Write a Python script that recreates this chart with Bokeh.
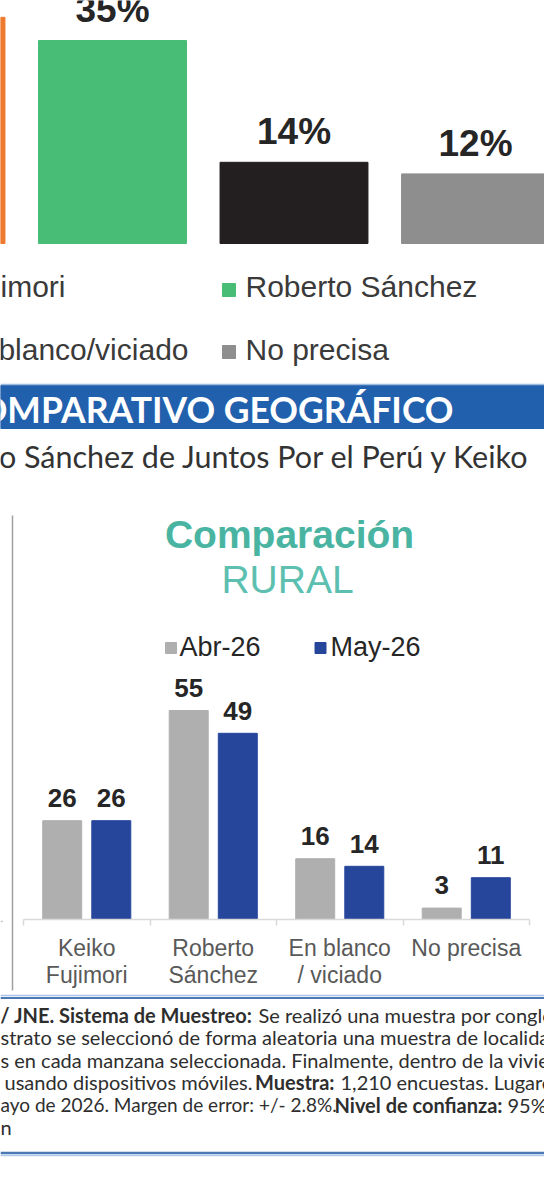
from bokeh.plotting import figure
from bokeh.models import Range1d, LinearAxis, FixedTicker
from bokeh.core.properties import value
from bokeh.embed import file_html
from bokeh.resources import INLINE

# ---------------- data ----------------
top_categories = ["Keiko Fujimori", "Roberto Sánchez", "En blanco/viciado", "No precisa"]
top_values = [39, 35, 14, 12]
top_colors = ["#EE7A30", "#47BD76", "#231F20", "#8E8E8E"]

rural_categories = ["Keiko\nFujimori", "Roberto\nSánchez", "En blanco\n/ viciado", "No precisa"]
rural_series = ["Abr-26", "May-26"]
rural_abr = [26, 55, 16, 3]
rural_may = [26, 49, 14, 11]
rural_colors = ["#AFAFAF", "#26469C"]

banner_title = "COMPARATIVO GEOGRÁFICO"
subtitle = "Roberto Sánchez de Juntos Por el Perú y Keiko"
rural_title = "Comparación"
rural_subtitle = "RURAL"

foot_texts = [
    "E / JNE. Sistema de Muestreo:", "Se realizó una muestra por conglomerados",
    "strato se seleccionó de forma aleatoria una muestra de localidades",
    "s en cada manzana seleccionada. Finalmente, dentro de la vivienda",
    "usando dispositivos móviles.", "Muestra:", "1,210 encuestas. Lugares",
    "ayo de 2026. Margen de error: +/- 2.8%.", "Nivel de confianza:", "95%.",
    "n",
]

# ---------------- layout (reference pixel space) ----------------
W, H = 544, 1184
L, R, T, B = 0, 544, 0, 1184
RX0, RCW, RBASE, RVS = 23.0, 126.5, 919.0, 3.8      # rural chart scale
TX0, TP, TBASE, TVS = -69.5, 181.5, 243.0, 5.8      # top chart scale
K = 0.37                                            # baseline correction (em)

ARIAL = value("Liberation Sans")
MYR = value("Lato")


def bl(y, fs):
    return y - K * fs


p = figure(width=W, height=H, output_backend="svg", toolbar_location=None,
           x_range=Range1d((L - RX0) / RCW, (R - RX0) / RCW),
           y_range=Range1d((RBASE - B) / RVS, (RBASE - T) / RVS),
           x_axis_type=None, y_axis_type=None, min_border=0,
           outline_line_color=None, background_fill_color="white",
           border_fill_color="white")
p.grid.visible = False
p.extra_x_ranges = {"px": Range1d(L, R), "tx": Range1d((L - TX0) / TP, (R - TX0) / TP)}
p.extra_y_ranges = {"py": Range1d(B, T), "ty": Range1d((TBASE - B) / TVS, (TBASE - T) / TVS)}

# ---------------- top chart ----------------
tx = list(range(len(top_categories)))
p.vbar(x=tx, top=top_values, bottom=0, width=0.815, color=top_colors,
       x_range_name="tx", y_range_name="ty")
p.text(x=tx, y=top_values, text=[f"{v}%" for v in top_values],
       x_range_name="tx", y_range_name="ty", y_offset=-17 - K * 37,
       text_align="center", text_baseline="alphabetic",
       text_font=ARIAL, text_font_style="bold", text_font_size="37px",
       text_color="#262626")

# top legend (two columns; squares of the left column lie off the page)
leg_text_x = [65, 245, 188, 245]
leg_text_y = [297, 297, 360, 360]
leg_sq_y = [289.5, 289.5, 351.5, 351.5]
leg_align = ["right", "left", "right", "left"]
for i, name in enumerate(top_categories):
    p.text(x=[leg_text_x[i]], y=[bl(leg_text_y[i], 30)], text=[name],
           x_range_name="px", y_range_name="py", text_align=leg_align[i],
           text_baseline="alphabetic", text_font=ARIAL, text_font_size="30px",
           text_color="#3A3A3A")
    if leg_align[i] == "left":
        p.scatter(x=[228.5], y=[leg_sq_y[i]], marker="square", size=13,
                  color=top_colors[i], x_range_name="px", y_range_name="py")

# ---------------- banner ----------------
p.quad(left=[L], right=[R], top=[385], bottom=[428], color="#2160AD",
       x_range_name="px", y_range_name="py")
p.segment(x0=[L], x1=[R], y0=[384], y1=[384], line_color="#9FBCE0", line_width=1.5,
          x_range_name="px", y_range_name="py")
p.text(x=[453], y=[bl(422, 35.5)], text=[banner_title], x_range_name="px", y_range_name="py",
       text_align="right", text_baseline="alphabetic", text_font=MYR,
       text_font_style="bold", text_font_size="35.5px", text_color="white")
p.text(x=[530], y=[bl(467, 30.5)], text=[subtitle], x_range_name="px", y_range_name="py",
       text_align="right", text_baseline="alphabetic", text_font=MYR,
       text_font_size="30.5px", text_color="#333333")

# ---------------- rural panel ----------------
p.segment(x0=[12], x1=[12], y0=[515], y1=[990], line_color="#A0A0A0", line_width=1.5,
          x_range_name="px", y_range_name="py")
p.segment(x0=[0], x1=[2.5], y0=[921], y1=[921], line_color="#C8C8C8", line_width=1.5,
          x_range_name="px", y_range_name="py")
p.text(x=[289], y=[bl(548, 39)], text=[rural_title], x_range_name="px", y_range_name="py",
       text_align="center", text_baseline="alphabetic", text_font=ARIAL,
       text_font_style="bold", text_font_size="39px", text_color="#4AB4A2")
p.text(x=[287], y=[bl(593, 39)], text=[rural_subtitle], x_range_name="px", y_range_name="py",
       text_align="center", text_baseline="alphabetic", text_font=ARIAL,
       text_font_size="39px", text_color="#5CBFAF")

rleg_sq_x = [170.5, 320]
rleg_tx_x = [179, 330]
for i, name in enumerate(rural_series):
    p.scatter(x=[rleg_sq_x[i]], y=[647.5], marker="square", size=11,
              color=rural_colors[i], x_range_name="px", y_range_name="py")
    p.text(x=[rleg_tx_x[i]], y=[bl(656, 27)], text=[name], x_range_name="px", y_range_name="py",
           text_align="left", text_baseline="alphabetic", text_font=ARIAL,
           text_font_size="27px", text_color="#262626")

centers = [i + 0.5 for i in range(len(rural_categories))]
off = 0.194
for series, vals, col, sgn in [(rural_series[0], rural_abr, rural_colors[0], -1),
                               (rural_series[1], rural_may, rural_colors[1], 1)]:
    xs = [c + sgn * off for c in centers]
    p.vbar(x=xs, top=vals, bottom=0, width=0.308, color=col)
    p.text(x=xs, y=vals, text=[str(v) for v in vals], y_offset=-13 - K * 26,
           text_align="center", text_baseline="alphabetic", text_font=ARIAL,
           text_font_style="bold", text_font_size="26px", text_color="#262626")

ax = LinearAxis(fixed_location=0,
                ticker=FixedTicker(ticks=centers, minor_ticks=list(range(len(rural_categories) + 1))),
                bounds=(0, len(rural_categories)),
                major_label_overrides={c: lab for c, lab in zip(centers, rural_categories)},
                axis_line_color="#D9D9D9", axis_line_width=1.5,
                major_tick_line_color=None, major_tick_out=0, major_tick_in=0,
                minor_tick_line_color="#D9D9D9", minor_tick_out=6, minor_tick_in=0,
                minor_tick_line_width=1.5,
                major_label_standoff=9,
                major_label_text_font="Liberation Sans",
                major_label_text_font_size="23px",
                major_label_text_line_height=1.05,
                major_label_text_color="#595959")
p.add_layout(ax, "below")

# ---------------- footnote ----------------
for yy, c, w in [(995, "#A9C4E6", 1.5), (997.5, "#4A79B6", 2), (1152.5, "#4A79B6", 2.5), (1155, "#B4CBE8", 1.5)]:
    p.segment(x0=[L], x1=[R], y0=[yy], y1=[yy], line_color=c, line_width=w,
              x_range_name="px", y_range_name="py")

foot_x = [252, 258, 0, 0, 252, 334, 340, 0, 502, 507, 0]
foot_y = [1021.5, 1021.5, 1044, 1066.5, 1089, 1089, 1089, 1111.5, 1111.5, 1111.5, 1134]
foot_align = ["right", "left", "left", "left", "right", "right", "left", "left", "right", "left", "left"]
foot_bold = [True, False, False, False, False, True, False, False, True, False, False]
foot_size = [20, 20, 20, 20, 20, 20, 20, 19, 20, 20, 20]
for t, x, y, a, b, fs in zip(foot_texts, foot_x, foot_y, foot_align, foot_bold, foot_size):
    p.text(x=[x], y=[bl(y, fs)], text=[t], x_range_name="px", y_range_name="py",
           text_align=a, text_baseline="alphabetic", text_font=MYR,
           text_font_style="bold" if b else "normal", text_font_size=f"{fs}px",
           text_color="#2E2E2E")

open("out.html", "w").write(file_html(p, INLINE))
